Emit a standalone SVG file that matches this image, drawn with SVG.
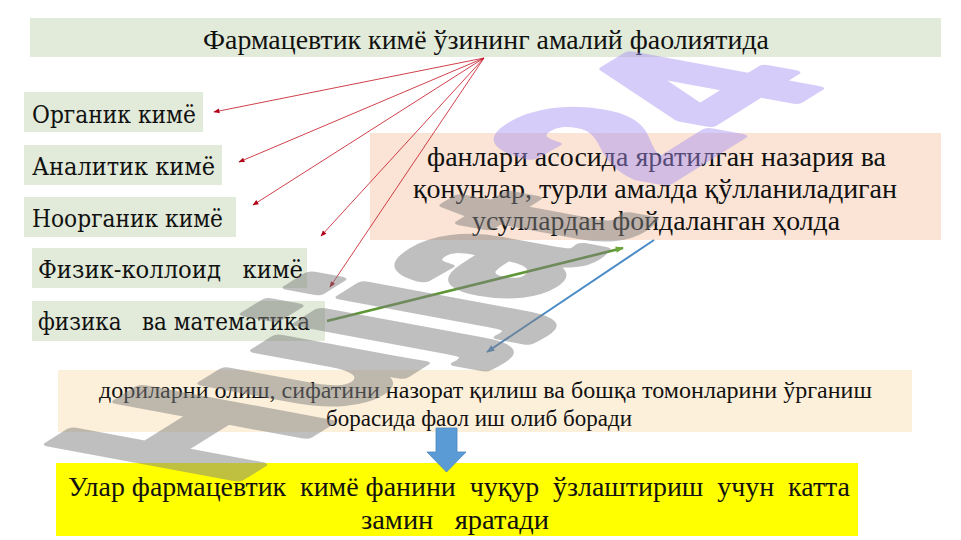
<svg xmlns="http://www.w3.org/2000/svg" width="961" height="540" viewBox="0 0 961 540">
<defs>
<style>
.bg{fill:#e2ebd9}
.t{font-family:"Liberation Serif","Times New Roman",serif;fill:#111;white-space:pre}
.lbl{font-family:"DejaVu Serif","Liberation Serif",serif;font-size:24px;fill:#111;white-space:pre}
.red{stroke:#c4121f;stroke-width:0.8;fill:none}
.wm{font-family:"Liberation Sans",Arial,sans-serif;font-weight:bold;font-size:100px;stroke-width:5;stroke-linejoin:round}
</style>
<marker id="ar" viewBox="0 0 10 10" refX="9" refY="5" markerWidth="7" markerHeight="6" markerUnits="userSpaceOnUse" orient="auto"><path d="M0,1 L10,5 L0,9z" fill="#b00018"/></marker>
<marker id="ag" viewBox="0 0 10 10" refX="9" refY="5" markerWidth="10" markerHeight="8" markerUnits="userSpaceOnUse" orient="auto"><path d="M0,1 L10,5 L0,9z" fill="#6aa63a"/></marker>
<marker id="ab" viewBox="0 0 10 10" refX="9" refY="5" markerWidth="10" markerHeight="8" markerUnits="userSpaceOnUse" orient="auto"><path d="M0,1 L10,5 L0,9z" fill="#4a8bc6"/></marker>
</defs>
<rect width="961" height="540" fill="#fff"/>

<g id="title">
<rect class="bg" x="30" y="18" width="911" height="39"/>
<text class="t" x="203" y="49" font-size="28" textLength="566" lengthAdjust="spacingAndGlyphs">Фармацевтик кимё ўзининг амалий фаолиятида</text>
</g>

<g id="organic">
<rect class="bg" x="24" y="92" width="179" height="40"/>
<text class="lbl" x="32" y="123" textLength="164" lengthAdjust="spacingAndGlyphs">Органик кимё</text>
</g>
<g id="analytic">
<rect class="bg" x="24" y="145" width="198" height="40"/>
<text class="lbl" x="32" y="175" textLength="183" lengthAdjust="spacingAndGlyphs">Аналитик кимё</text>
</g>
<g id="inorganic">
<rect class="bg" x="24" y="197" width="212" height="40"/>
<text class="lbl" x="32" y="227" textLength="191" lengthAdjust="spacingAndGlyphs">Ноорганик кимё</text>
</g>
<g id="physcolloid">
<rect class="bg" x="32" y="248" width="275" height="40"/>
<text class="lbl" x="38" y="278" textLength="265" lengthAdjust="spacingAndGlyphs">Физик-коллоид   кимё</text>
</g>
<g id="physmath">
<rect class="bg" x="32" y="301" width="293" height="40"/>
<text class="lbl" x="38" y="330" textLength="272" lengthAdjust="spacingAndGlyphs">физика   ва математика</text>
</g>

<g id="theory">
<rect x="370" y="133" width="571" height="107" fill="#fbe4d5"/>
<text class="t" font-size="27">
<tspan x="427" y="166" textLength="459" lengthAdjust="spacingAndGlyphs">фанлари асосида яратилган назария ва</tspan>
<tspan x="413" y="198" textLength="484" lengthAdjust="spacingAndGlyphs">қонунлар, турли амалда қўлланиладиган</tspan>
<tspan x="472" y="230" textLength="368" lengthAdjust="spacingAndGlyphs">усуллардан фойдаланган ҳолда</tspan>
</text>
</g>

<g id="activity">
<rect x="58" y="370" width="854" height="62" fill="#fdf0da"/>
<text class="t" font-size="23">
<tspan x="99" y="398" textLength="773" lengthAdjust="spacingAndGlyphs">дориларни олиш, сифатини назорат қилиш ва бошқа томонларини ўрганиш</tspan>
<tspan x="326" y="426" textLength="306" lengthAdjust="spacingAndGlyphs">борасида фаол иш олиб боради</tspan>
</text>
</g>

<g id="result">
<rect x="56" y="463" width="802" height="73" fill="#ffff00"/>
<text class="t" font-size="28">
<tspan x="68" y="496" textLength="782" lengthAdjust="spacingAndGlyphs">Улар фармацевтик  кимё фанини  чуқур  ўзлаштириш  учун  катта</tspan>
<tspan x="361" y="529" textLength="188" lengthAdjust="spacingAndGlyphs">замин   яратади</tspan>
</text>
</g>

<g id="connectors">
<line class="red" x1="484" y1="58" x2="214" y2="112" marker-end="url(#ar)"/>
<line class="red" x1="484" y1="58" x2="239" y2="162" marker-end="url(#ar)"/>
<line class="red" x1="484" y1="58" x2="253" y2="205" marker-end="url(#ar)"/>
<line class="red" x1="484" y1="58" x2="321" y2="236" marker-end="url(#ar)"/>
<line class="red" x1="484" y1="58" x2="330" y2="287" marker-end="url(#ar)"/>
<line x1="327" y1="321" x2="623" y2="248" stroke="#5f9636" stroke-width="2.6" marker-end="url(#ag)"/>
<line x1="654" y1="240" x2="487" y2="352" stroke="#4a8bc6" stroke-width="2" marker-end="url(#ab)"/>
<path d="M436,428 H457 V452 H466 L446.5,472 L427,452 H436 Z" fill="#5b9bd5" stroke="#4a86c0" stroke-width="0.8"/>
</g>

<g id="watermark">
<text class="wm" fill="#808080" stroke="#808080" opacity="0.5" transform="matrix(1.54 -0.96 2.70 0.50 227 485)">Hujjat</text>
<text class="wm" fill="#a58ff2" stroke="#a58ff2" opacity="0.45" transform="matrix(1.54 -0.96 2.70 0.50 660 186)">24</text>
</g>
</svg>
